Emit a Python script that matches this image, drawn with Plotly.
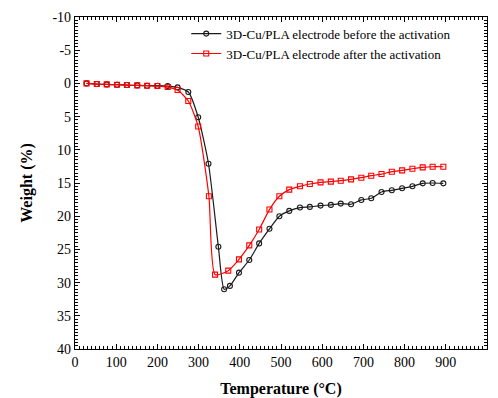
import plotly.graph_objects as go

# Temperature (°C) and weight loss (%)
T_before = [28, 53, 77, 102, 126, 151, 175, 200, 225, 249, 275, 299, 324, 348, 362, 376,
            398, 423, 447, 472, 496, 520, 546, 570, 596, 621, 645, 670, 695, 719, 744,
            769, 794, 819, 844, 868, 894]
W_before = [0.0, 0.1, 0.15, 0.2, 0.25, 0.3, 0.35, 0.35, 0.4, 0.6, 1.3, 5.1, 12.1, 24.6, 31.0,
            30.5, 28.5, 26.6, 24.1, 21.9, 20.0, 19.2, 18.7, 18.6, 18.4, 18.3, 18.1, 18.2,
            17.55, 17.3, 16.35, 16.1, 15.8, 15.5, 15.05, 15.0, 15.05]

T_after = [28, 53, 77, 102, 126, 151, 175, 200, 225, 249, 275, 299, 325, 340, 372,
           398, 423, 447, 472, 496, 520, 546, 570, 596, 621, 645, 670, 695, 719, 744,
           769, 794, 819, 844, 868, 894]
W_after = [0.0, 0.1, 0.15, 0.2, 0.25, 0.3, 0.35, 0.4, 0.55, 1.0, 2.65, 6.5, 17.0, 28.8,
           28.2, 26.5, 24.4, 22.0, 19.0, 17.0, 16.0, 15.5, 15.15, 14.9, 14.8, 14.65, 14.45,
           14.2, 13.9, 13.65, 13.3, 13.1, 12.85, 12.65, 12.55, 12.55]

names = ["3D-Cu/PLA electrode before the activation",
         "3D-Cu/PLA electrode after the activation"]

x_ticks = list(range(0, 1001, 100))
y_ticks = list(range(-10, 41, 5))

FONT = "Liberation Serif"

fig = go.Figure()
fig.add_trace(go.Scatter(
    x=T_before, y=W_before, name=names[0], mode="lines+markers",
    line=dict(color="#1a1a1a", width=1.2, shape="spline", smoothing=0.6),
    marker=dict(symbol="circle-open", size=5, color="#1a1a1a", line=dict(width=1.1)),
))
fig.add_trace(go.Scatter(
    x=T_after, y=W_after, name=names[1], mode="lines+markers",
    line=dict(color="#ff0000", width=1.2, shape="spline", smoothing=0.6),
    marker=dict(symbol="square-open", size=5, color="#ff0000", line=dict(width=1.1)),
))

axis_common = dict(
    showline=True, linecolor="black", linewidth=1.2, mirror="allticks",
    ticks="inside", ticklen=5, tickwidth=1, tickcolor="black",
    showgrid=False, zeroline=False, automargin=False,
    tickfont=dict(family=FONT, size=14, color="black"),
)

fig.update_xaxes(
    range=[0, 1000], tickvals=x_ticks, ticktext=[str(v) for v in x_ticks],
    title=dict(text="<b>Temperature (°C)</b>", font=dict(family=FONT, size=16, color="black")),
    minor=dict(ticks="inside", ticklen=3, dtick=10, tickcolor="black", tickwidth=1),
    **axis_common,
)
fig.update_yaxes(
    range=[40, -10], tickvals=y_ticks, ticktext=[str(v) for v in y_ticks],
    title=dict(text="<b>Weight (%)</b>", font=dict(family=FONT, size=16, color="black")),
    minor=dict(ticks="inside", ticklen=3, dtick=0.5, tickcolor="black", tickwidth=1),
    **axis_common,
)

fig.update_layout(
    width=498, height=398,
    margin=dict(l=75, r=11, t=17, b=49),
    plot_bgcolor="white", paper_bgcolor="white",
    font=dict(family=FONT, color="black"),
    legend=dict(x=0.27, y=0.995, xanchor="left", yanchor="top",
                font=dict(family=FONT, size=13, color="black"),
                bgcolor="rgba(0,0,0,0)", tracegroupgap=2, itemwidth=30),
    showlegend=True,
)

fig.write_html("out.html")
